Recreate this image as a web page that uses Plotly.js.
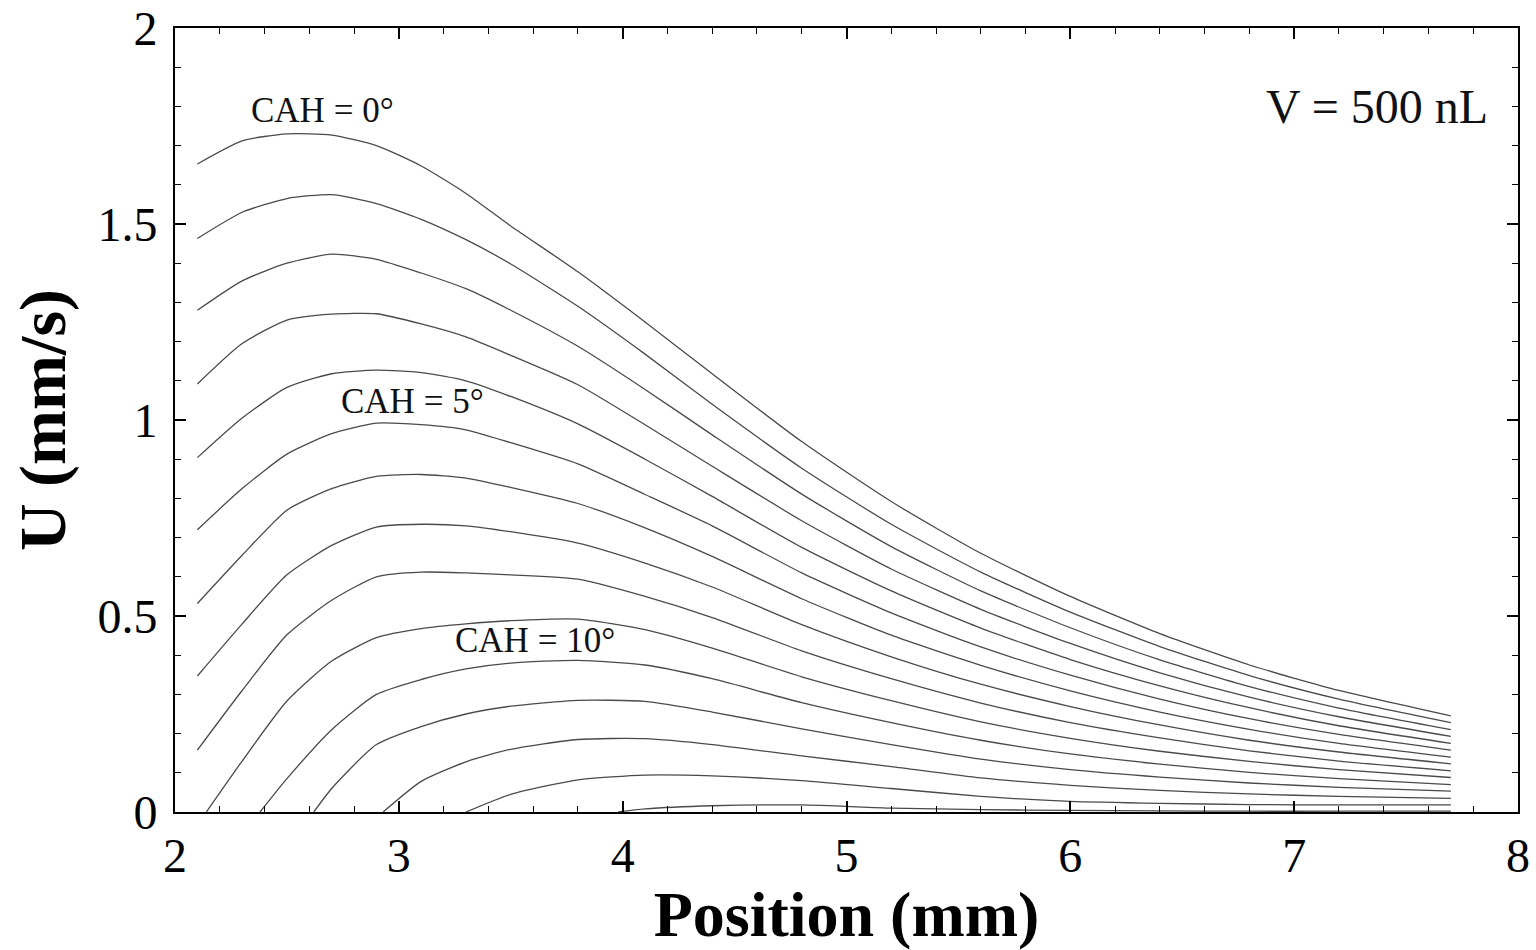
<!DOCTYPE html>
<html>
<head>
<meta charset="utf-8">
<script src="https://cdn.plot.ly/plotly-3.0.1.min.js"></script>
<style>html,body{margin:0;padding:0;background:#fff;}#chart{width:1536px;height:950px;}</style>
</head>
<body>
<div id="chart"></div>
<script>
// Position grid (mm)
var position = [2.1, 2.3, 2.5, 2.7, 2.9, 3.1, 3.3, 3.5, 3.8, 4.1, 4.4, 4.8, 5.2, 5.6, 6.0, 6.4, 6.8, 7.2, 7.7];

// U (mm/s) for each contact angle hysteresis value, CAH = 0..14 deg
var cah0  = [1.653,1.712,1.730,1.727,1.700,1.648,1.578,1.495,1.378,1.250,1.118,0.945,0.792,0.660,0.550,0.455,0.375,0.310,0.245];
var cah1  = [1.463,1.530,1.565,1.575,1.552,1.512,1.460,1.398,1.290,1.168,1.040,0.877,0.734,0.612,0.510,0.422,0.348,0.288,0.228];
var cah2  = [1.280,1.355,1.400,1.423,1.410,1.375,1.335,1.280,1.188,1.078,0.962,0.811,0.677,0.564,0.470,0.388,0.320,0.265,0.210];
var cah3  = [1.092,1.195,1.255,1.270,1.271,1.245,1.212,1.165,1.090,0.988,0.882,0.743,0.620,0.517,0.430,0.355,0.293,0.243,0.193];
var cah4  = [0.904,1.005,1.083,1.118,1.127,1.121,1.100,1.060,0.990,0.900,0.805,0.675,0.564,0.469,0.389,0.322,0.266,0.220,0.175];
var cah5  = [0.720,0.825,0.913,0.965,0.992,0.988,0.975,0.942,0.888,0.810,0.730,0.610,0.508,0.421,0.349,0.288,0.238,0.198,0.158];
var cah6  = [0.532,0.655,0.770,0.825,0.856,0.861,0.852,0.828,0.787,0.725,0.652,0.544,0.451,0.374,0.309,0.255,0.211,0.175,0.140];
var cah7  = [0.347,0.480,0.605,0.680,0.727,0.734,0.730,0.715,0.686,0.635,0.574,0.478,0.396,0.326,0.269,0.222,0.183,0.153,0.123];
var cah8  = [0.158,0.310,0.452,0.540,0.600,0.612,0.610,0.605,0.594,0.550,0.496,0.411,0.340,0.278,0.228,0.189,0.156,0.130,0.105];
var cah9  = [null,0.130,0.283,0.385,0.445,0.468,0.480,0.488,0.492,0.465,0.418,0.345,0.284,0.230,0.188,0.155,0.129,0.108,0.088];
var cah10 = [null,null,0.085,0.210,0.300,0.338,0.365,0.380,0.387,0.375,0.340,0.279,0.228,0.183,0.148,0.122,0.101,0.085,0.070];
var cah11 = [null,null,null,0.060,0.172,0.218,0.250,0.270,0.285,0.282,0.255,0.212,0.172,0.135,0.108,0.089,0.074,0.063,0.053];
var cah12 = [null,null,null,null,null,0.078,0.128,0.160,0.185,0.187,0.172,0.143,0.116,0.087,0.068,0.055,0.046,0.040,0.035];
var cah13 = [null,null,null,null,null,null,null,0.045,0.082,0.094,0.092,0.080,0.060,0.040,0.027,0.022,0.019,0.018,0.018];
var cah14 = [null,null,null,null,null,null,null,null,null,0.008,0.016,0.018,0.010,0.006,0.004,0.003,0.002,0.002,0.002];

// Position where each curve starts from U = 0 (null: curve starts at left of grid)
var zeroCross = [null,null,null,null,null,null,null,null,null,2.14,2.38,2.62,2.93,3.30,3.98];

var cahValues = [0,1,2,3,4,5,6,7,8,9,10,11,12,13,14];
var series = [cah0,cah1,cah2,cah3,cah4,cah5,cah6,cah7,cah8,cah9,cah10,cah11,cah12,cah13,cah14];

var labelText = ['CAH = 0°', 'CAH = 5°', 'CAH = 10°', 'V = 500 nL'];
var labelX = [2.66, 3.06, 3.61, 7.37];
var labelY = [1.79, 1.046, 0.438, 1.80];

var traces = series.map(function (ys, i) {
  var xs = [], yv = [];
  if (zeroCross[i] !== null) { xs.push(zeroCross[i]); yv.push(0); }
  for (var j = 0; j < position.length; j++) {
    if (ys[j] !== null) { xs.push(position[j]); yv.push(ys[j]); }
  }
  return {
    x: xs, y: yv, type: 'scatter', mode: 'lines',
    name: 'CAH = ' + cahValues[i] + '°',
    line: {color: '#4a4a4a', width: 1.3, shape: 'spline', smoothing: 0.6},
    showlegend: false, hoverinfo: 'x+y+name'
  };
});

var serif = 'Liberation Serif, Times New Roman, serif';
var annotations = labelText.map(function (t, i) {
  return {
    x: labelX[i], y: labelY[i], xref: 'x', yref: 'y', text: t, showarrow: false,
    font: {family: serif, size: i === 3 ? 48 : 35, color: '#111'},
    xanchor: 'center', yanchor: 'middle'
  };
});

var axisCommon = {
  showgrid: false, zeroline: false, showline: true, linecolor: '#000', linewidth: 2,
  mirror: 'allticks', ticks: 'inside', ticklen: 11, tickwidth: 2, tickcolor: '#000',
  ticklabeloverflow: 'allow',
  tickfont: {family: serif, size: 48, color: '#000'}
};

var layout = {
  width: 1536, height: 950,
  margin: {l: 175, r: 18, t: 28, b: 138},
  paper_bgcolor: '#fff', plot_bgcolor: '#fff',
  showlegend: false,
  xaxis: Object.assign({}, axisCommon, {
    range: [2, 8], tickvals: [2,3,4,5,6,7,8], ticktext: ['2','3','4','5','6','7','8'],
    minor: {ticks: 'inside', ticklen: 6, tickwidth: 1.2, tickcolor: '#000', dtick: 0.2},
    title: {text: '<b>Position (mm)</b>', font: {family: serif, size: 64, color: '#000'}, standoff: 15}
  }),
  yaxis: Object.assign({}, axisCommon, {
    range: [0, 2], tickvals: [0,0.5,1,1.5,2], ticktext: ['0','0.5','1','1.5','2'],
    minor: {ticks: 'inside', ticklen: 6, tickwidth: 1.2, tickcolor: '#000', dtick: 0.1},
    ticklabelstandoff: 6,
    title: {text: '<b>U (mm/s)</b>', font: {family: serif, size: 66, color: '#000'}, standoff: 10}
  }),
  annotations: annotations
};

Plotly.newPlot('chart', traces, layout, {displayModeBar: false, staticPlot: false});
</script>
</body>
</html>
